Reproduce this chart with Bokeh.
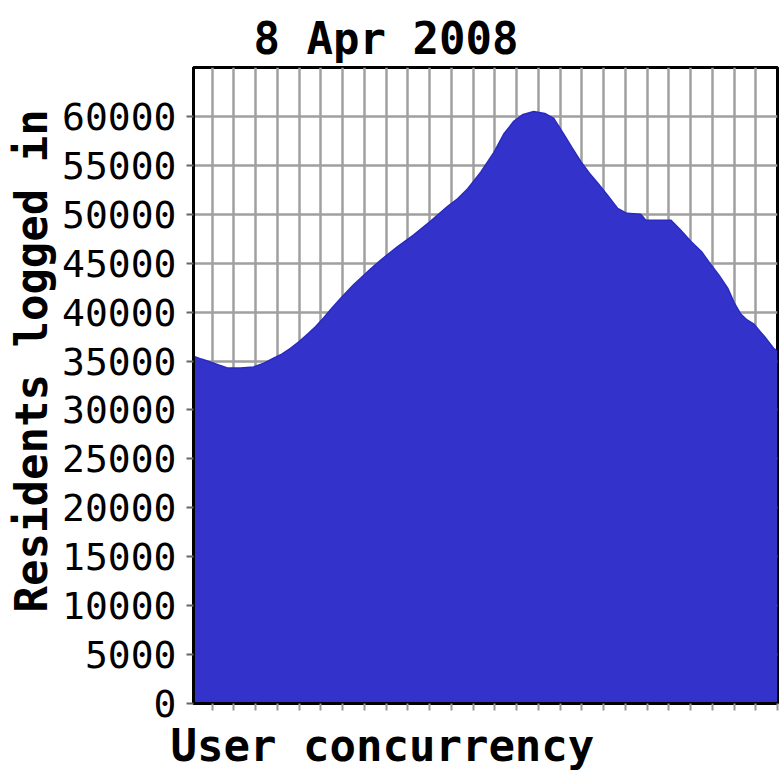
from bokeh.plotting import figure
from bokeh.models import FixedTicker, Range1d, Title, ColumnDataSource
from bokeh.embed import file_html
from bokeh.resources import INLINE

# --- data (x in grid-tick units, y = residents logged in) ---
x_vals = [-0.86, -0.5, -0.22, 0.3, 0.7, 1.3, 1.9, 2.4, 2.82, 3.2, 3.6, 4.0, 4.39, 4.75,
          5.12, 5.5, 5.9, 6.5, 7.28, 7.74, 8.53, 9.27, 10.05, 10.83, 11.3, 11.75, 12.35,
          12.95, 13.41, 13.87, 14.3, 14.79, 15.3, 15.71, 16.17, 16.55, 16.95, 17.35,
          17.73, 18.2, 18.65, 19.07, 19.71, 19.94, 21.09, 21.5, 22.01, 22.5, 22.92, 23.3,
          23.71, 24.0, 24.31, 24.6, 24.9, 25.4, 25.82, 26.0]
residents = [35500, 35200, 35000, 34600, 34300, 34300, 34400, 34800, 35300, 35700, 36300,
             37000, 37750, 38500, 39400, 40400, 41400, 42800, 44400, 45300, 46700, 47900,
             49300, 50800, 51600, 52600, 54300, 56300, 58200, 59500, 60200, 60500, 60300,
             59800, 58200, 56800, 55400, 54200, 53200, 51900, 50600, 50100, 50000, 49400,
             49400, 48500, 47250, 46200, 44900, 43800, 42450, 41000, 39800, 39200, 38800,
             37500, 36300, 36000]
y_ticks = list(range(0, 60001, 5000))
x_ticks = list(range(0, 27))

title_text = "8 Apr 2008"
x_label = "User concurrency"
y_label = "Residents logged in"

src = ColumnDataSource(dict(x=x_vals, y=residents, base=[0] * len(x_vals)))

p = figure(width=780, height=780, output_backend="svg", toolbar_location=None,
           x_range=Range1d(-0.86, 26.0), y_range=Range1d(0, 65000),
           min_border_left=193, min_border_right=3, min_border_top=67,
           min_border_bottom=77)

p.background_fill_color = "white"
p.border_fill_color = "white"
p.outline_line_color = "black"
p.outline_line_width = 3

p.varea(x="x", y1="base", y2="y", source=src, fill_color="#3333cc")
p.line(x="x", y="y", source=src, line_color="#2a2ac0", line_width=1.5)

# grids
p.xgrid.ticker = FixedTicker(ticks=x_ticks)
p.ygrid.ticker = FixedTicker(ticks=y_ticks)
for g in (p.xgrid, p.ygrid):
    g.grid_line_color = "#a0a0a0"
    g.grid_line_width = 2.5

# y axis
p.yaxis.ticker = FixedTicker(ticks=y_ticks)
p.yaxis.axis_line_color = "black"
p.yaxis.axis_line_width = 3
p.yaxis.major_tick_out = 7
p.yaxis.major_tick_in = 0
p.yaxis.major_tick_line_color = "#666666"
p.yaxis.major_tick_line_width = 2
p.yaxis.minor_tick_line_color = None
p.yaxis.major_label_standoff = 10
p.yaxis.major_label_text_font = "DejaVu Sans Mono"
p.yaxis.major_label_text_font_size = "38px"
p.yaxis.major_label_text_color = "black"

# x axis
p.xaxis.ticker = FixedTicker(ticks=x_ticks)
p.xaxis.axis_line_color = "black"
p.xaxis.axis_line_width = 3
p.xaxis.major_tick_out = 7
p.xaxis.major_tick_in = 0
p.xaxis.major_tick_line_color = "#999999"
p.xaxis.major_tick_line_width = 2
p.xaxis.minor_tick_line_color = None
p.xaxis.major_label_overrides = {t: "" for t in x_ticks}
p.xaxis.major_label_text_font_size = "0px"
p.xaxis.major_label_standoff = 0

font = "DejaVu Sans Mono"

p.title.text = title_text
p.title.align = "left"
p.title.offset = 60
p.title.text_font = font
p.title.text_font_size = "44px"
p.title.text_font_style = "bold"
p.title.text_color = "black"
p.title.standoff = 8

yt = Title(text=y_label, align="left", offset=91, text_font=font,
           text_font_size="44px", text_font_style="bold", text_color="black",
           standoff=5)
p.add_layout(yt, "left")

xt = Title(text=x_label, align="left", offset=-23, text_font=font,
           text_font_size="44px", text_font_style="bold", text_color="black",
           standoff=15)
p.add_layout(xt, "below")

open("out.html", "w").write(file_html(p, INLINE))
